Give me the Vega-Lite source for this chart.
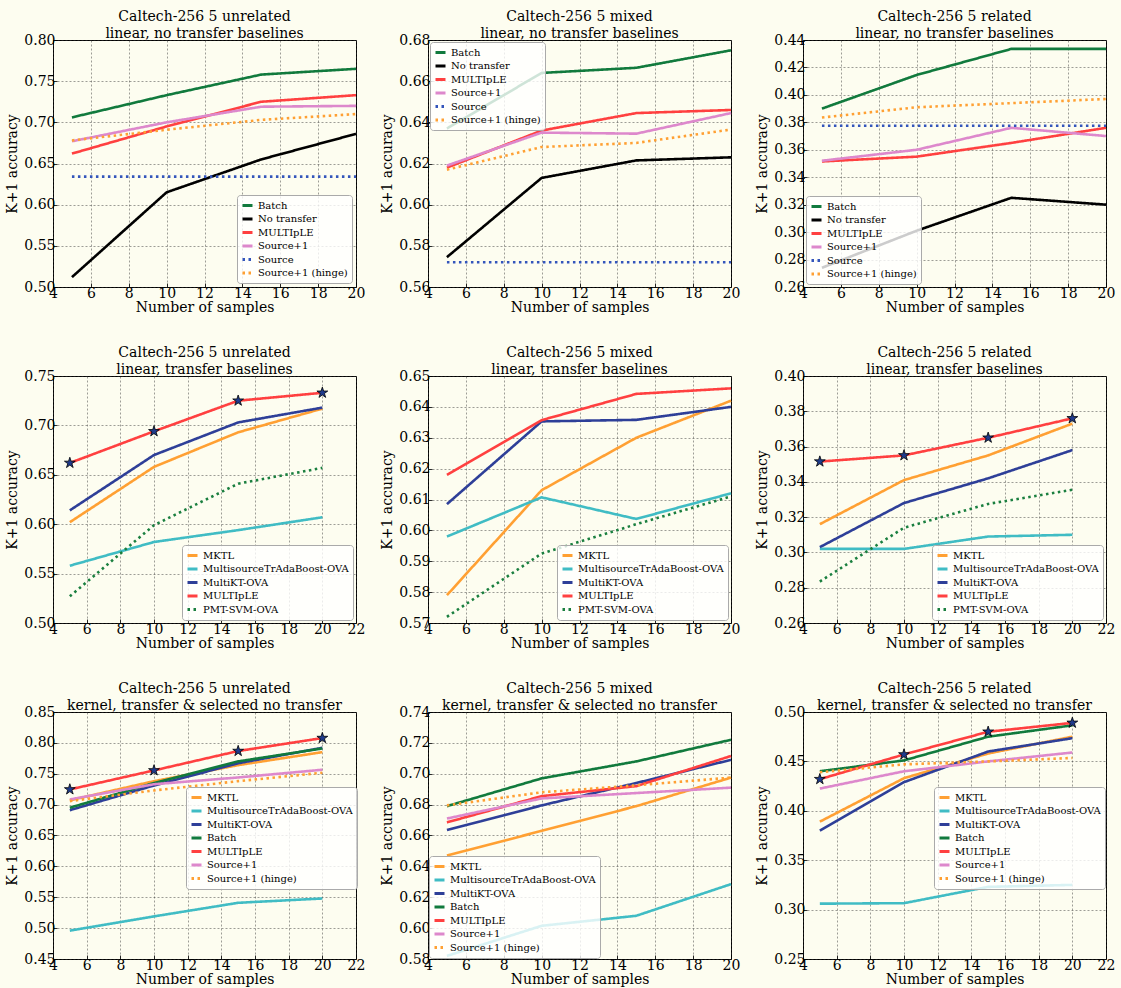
{
  "$schema": "https://vega.github.io/schema/vega-lite/v6.json",
  "background": "#fdfdf0",
  "padding": {"left": 5, "top": 9, "right": 5, "bottom": 2},
  "data": {"values": [
    {"p":1,"s":"Batch","n":5,"a":0.706},{"p":1,"s":"Batch","n":10,"a":0.733},{"p":1,"s":"Batch","n":15,"a":0.758},{"p":1,"s":"Batch","n":20,"a":0.765},
    {"p":1,"s":"No transfer","n":5,"a":0.512},{"p":1,"s":"No transfer","n":10,"a":0.615},{"p":1,"s":"No transfer","n":15,"a":0.655},{"p":1,"s":"No transfer","n":20,"a":0.686},
    {"p":1,"s":"MULTIpLE","n":5,"a":0.662},{"p":1,"s":"MULTIpLE","n":10,"a":0.695},{"p":1,"s":"MULTIpLE","n":15,"a":0.725},{"p":1,"s":"MULTIpLE","n":20,"a":0.733},
    {"p":1,"s":"Source+1","n":5,"a":0.677},{"p":1,"s":"Source+1","n":10,"a":0.700},{"p":1,"s":"Source+1","n":15,"a":0.719},{"p":1,"s":"Source+1","n":20,"a":0.720},
    {"p":1,"s":"Source","n":5,"a":0.634},{"p":1,"s":"Source","n":10,"a":0.634},{"p":1,"s":"Source","n":15,"a":0.634},{"p":1,"s":"Source","n":20,"a":0.634},
    {"p":1,"s":"Source+1 (hinge)","n":5,"a":0.678},{"p":1,"s":"Source+1 (hinge)","n":10,"a":0.691},{"p":1,"s":"Source+1 (hinge)","n":15,"a":0.703},{"p":1,"s":"Source+1 (hinge)","n":20,"a":0.710},

    {"p":2,"s":"Batch","n":5,"a":0.637},{"p":2,"s":"Batch","n":10,"a":0.664},{"p":2,"s":"Batch","n":15,"a":0.6665},{"p":2,"s":"Batch","n":20,"a":0.675},
    {"p":2,"s":"No transfer","n":5,"a":0.5745},{"p":2,"s":"No transfer","n":10,"a":0.613},{"p":2,"s":"No transfer","n":15,"a":0.6215},{"p":2,"s":"No transfer","n":20,"a":0.623},
    {"p":2,"s":"MULTIpLE","n":5,"a":0.618},{"p":2,"s":"MULTIpLE","n":10,"a":0.636},{"p":2,"s":"MULTIpLE","n":15,"a":0.6445},{"p":2,"s":"MULTIpLE","n":20,"a":0.646},
    {"p":2,"s":"Source+1","n":5,"a":0.619},{"p":2,"s":"Source+1","n":10,"a":0.635},{"p":2,"s":"Source+1","n":15,"a":0.6345},{"p":2,"s":"Source+1","n":20,"a":0.6445},
    {"p":2,"s":"Source","n":5,"a":0.572},{"p":2,"s":"Source","n":10,"a":0.572},{"p":2,"s":"Source","n":15,"a":0.572},{"p":2,"s":"Source","n":20,"a":0.572},
    {"p":2,"s":"Source+1 (hinge)","n":5,"a":0.617},{"p":2,"s":"Source+1 (hinge)","n":10,"a":0.628},{"p":2,"s":"Source+1 (hinge)","n":15,"a":0.630},{"p":2,"s":"Source+1 (hinge)","n":20,"a":0.6365},

    {"p":3,"s":"Batch","n":5,"a":0.390},{"p":3,"s":"Batch","n":10,"a":0.4145},{"p":3,"s":"Batch","n":15,"a":0.4335},{"p":3,"s":"Batch","n":20,"a":0.4335},
    {"p":3,"s":"No transfer","n":5,"a":0.274},{"p":3,"s":"No transfer","n":10,"a":0.301},{"p":3,"s":"No transfer","n":15,"a":0.325},{"p":3,"s":"No transfer","n":20,"a":0.320},
    {"p":3,"s":"MULTIpLE","n":5,"a":0.3515},{"p":3,"s":"MULTIpLE","n":10,"a":0.355},{"p":3,"s":"MULTIpLE","n":15,"a":0.365},{"p":3,"s":"MULTIpLE","n":20,"a":0.376},
    {"p":3,"s":"Source+1","n":5,"a":0.352},{"p":3,"s":"Source+1","n":10,"a":0.360},{"p":3,"s":"Source+1","n":15,"a":0.376},{"p":3,"s":"Source+1","n":20,"a":0.370},
    {"p":3,"s":"Source","n":5,"a":0.3775},{"p":3,"s":"Source","n":10,"a":0.3775},{"p":3,"s":"Source","n":15,"a":0.3775},{"p":3,"s":"Source","n":20,"a":0.3775},
    {"p":3,"s":"Source+1 (hinge)","n":5,"a":0.3835},{"p":3,"s":"Source+1 (hinge)","n":10,"a":0.391},{"p":3,"s":"Source+1 (hinge)","n":15,"a":0.394},{"p":3,"s":"Source+1 (hinge)","n":20,"a":0.397},

    {"p":4,"s":"MKTL","n":5,"a":0.602},{"p":4,"s":"MKTL","n":10,"a":0.658},{"p":4,"s":"MKTL","n":15,"a":0.693},{"p":4,"s":"MKTL","n":20,"a":0.717},
    {"p":4,"s":"MultisourceTrAdaBoost-OVA","n":5,"a":0.558},{"p":4,"s":"MultisourceTrAdaBoost-OVA","n":10,"a":0.582},{"p":4,"s":"MultisourceTrAdaBoost-OVA","n":15,"a":0.594},{"p":4,"s":"MultisourceTrAdaBoost-OVA","n":20,"a":0.607},
    {"p":4,"s":"MultiKT-OVA","n":5,"a":0.614},{"p":4,"s":"MultiKT-OVA","n":10,"a":0.670},{"p":4,"s":"MultiKT-OVA","n":15,"a":0.703},{"p":4,"s":"MultiKT-OVA","n":20,"a":0.718},
    {"p":4,"s":"MULTIpLE","n":5,"a":0.662},{"p":4,"s":"MULTIpLE","n":10,"a":0.694},{"p":4,"s":"MULTIpLE","n":15,"a":0.725},{"p":4,"s":"MULTIpLE","n":20,"a":0.733},
    {"p":4,"s":"PMT-SVM-OVA","n":5,"a":0.527},{"p":4,"s":"PMT-SVM-OVA","n":10,"a":0.599},{"p":4,"s":"PMT-SVM-OVA","n":15,"a":0.641},{"p":4,"s":"PMT-SVM-OVA","n":20,"a":0.657},

    {"p":5,"s":"MKTL","n":5,"a":0.579},{"p":5,"s":"MKTL","n":10,"a":0.613},{"p":5,"s":"MKTL","n":15,"a":0.630},{"p":5,"s":"MKTL","n":20,"a":0.642},
    {"p":5,"s":"MultisourceTrAdaBoost-OVA","n":5,"a":0.598},{"p":5,"s":"MultisourceTrAdaBoost-OVA","n":10,"a":0.6107},{"p":5,"s":"MultisourceTrAdaBoost-OVA","n":15,"a":0.6037},{"p":5,"s":"MultisourceTrAdaBoost-OVA","n":20,"a":0.612},
    {"p":5,"s":"MultiKT-OVA","n":5,"a":0.6085},{"p":5,"s":"MultiKT-OVA","n":10,"a":0.6353},{"p":5,"s":"MultiKT-OVA","n":15,"a":0.6358},{"p":5,"s":"MultiKT-OVA","n":20,"a":0.640},
    {"p":5,"s":"MULTIpLE","n":5,"a":0.618},{"p":5,"s":"MULTIpLE","n":10,"a":0.6357},{"p":5,"s":"MULTIpLE","n":15,"a":0.6442},{"p":5,"s":"MULTIpLE","n":20,"a":0.646},
    {"p":5,"s":"PMT-SVM-OVA","n":5,"a":0.572},{"p":5,"s":"PMT-SVM-OVA","n":10,"a":0.5925},{"p":5,"s":"PMT-SVM-OVA","n":15,"a":0.602},{"p":5,"s":"PMT-SVM-OVA","n":20,"a":0.611},

    {"p":6,"s":"MKTL","n":5,"a":0.316},{"p":6,"s":"MKTL","n":10,"a":0.341},{"p":6,"s":"MKTL","n":15,"a":0.355},{"p":6,"s":"MKTL","n":20,"a":0.373},
    {"p":6,"s":"MultisourceTrAdaBoost-OVA","n":5,"a":0.302},{"p":6,"s":"MultisourceTrAdaBoost-OVA","n":10,"a":0.302},{"p":6,"s":"MultisourceTrAdaBoost-OVA","n":15,"a":0.309},{"p":6,"s":"MultisourceTrAdaBoost-OVA","n":20,"a":0.310},
    {"p":6,"s":"MultiKT-OVA","n":5,"a":0.303},{"p":6,"s":"MultiKT-OVA","n":10,"a":0.328},{"p":6,"s":"MultiKT-OVA","n":15,"a":0.342},{"p":6,"s":"MultiKT-OVA","n":20,"a":0.358},
    {"p":6,"s":"MULTIpLE","n":5,"a":0.3515},{"p":6,"s":"MULTIpLE","n":10,"a":0.355},{"p":6,"s":"MULTIpLE","n":15,"a":0.365},{"p":6,"s":"MULTIpLE","n":20,"a":0.376},
    {"p":6,"s":"PMT-SVM-OVA","n":5,"a":0.2835},{"p":6,"s":"PMT-SVM-OVA","n":10,"a":0.314},{"p":6,"s":"PMT-SVM-OVA","n":15,"a":0.3275},{"p":6,"s":"PMT-SVM-OVA","n":20,"a":0.3355},

    {"p":7,"s":"MKTL","n":5,"a":0.707},{"p":7,"s":"MKTL","n":10,"a":0.738},{"p":7,"s":"MKTL","n":15,"a":0.764},{"p":7,"s":"MKTL","n":20,"a":0.785},
    {"p":7,"s":"MultisourceTrAdaBoost-OVA","n":5,"a":0.496},{"p":7,"s":"MultisourceTrAdaBoost-OVA","n":10,"a":0.519},{"p":7,"s":"MultisourceTrAdaBoost-OVA","n":15,"a":0.541},{"p":7,"s":"MultisourceTrAdaBoost-OVA","n":20,"a":0.548},
    {"p":7,"s":"MultiKT-OVA","n":5,"a":0.691},{"p":7,"s":"MultiKT-OVA","n":10,"a":0.731},{"p":7,"s":"MultiKT-OVA","n":15,"a":0.767},{"p":7,"s":"MultiKT-OVA","n":20,"a":0.792},
    {"p":7,"s":"Batch","n":5,"a":0.695},{"p":7,"s":"Batch","n":10,"a":0.735},{"p":7,"s":"Batch","n":15,"a":0.770},{"p":7,"s":"Batch","n":20,"a":0.791},
    {"p":7,"s":"MULTIpLE","n":5,"a":0.7246},{"p":7,"s":"MULTIpLE","n":10,"a":0.7554},{"p":7,"s":"MULTIpLE","n":15,"a":0.7868},{"p":7,"s":"MULTIpLE","n":20,"a":0.8078},
    {"p":7,"s":"Source+1","n":5,"a":0.7084},{"p":7,"s":"Source+1","n":10,"a":0.733},{"p":7,"s":"Source+1","n":15,"a":0.744},{"p":7,"s":"Source+1","n":20,"a":0.7565},
    {"p":7,"s":"Source+1 (hinge)","n":5,"a":0.7057},{"p":7,"s":"Source+1 (hinge)","n":10,"a":0.723},{"p":7,"s":"Source+1 (hinge)","n":15,"a":0.738},{"p":7,"s":"Source+1 (hinge)","n":20,"a":0.7516},

    {"p":8,"s":"MKTL","n":5,"a":0.647},{"p":8,"s":"MKTL","n":10,"a":0.663},{"p":8,"s":"MKTL","n":15,"a":0.679},{"p":8,"s":"MKTL","n":20,"a":0.6975},
    {"p":8,"s":"MultisourceTrAdaBoost-OVA","n":5,"a":0.582},{"p":8,"s":"MultisourceTrAdaBoost-OVA","n":10,"a":0.6015},{"p":8,"s":"MultisourceTrAdaBoost-OVA","n":15,"a":0.608},{"p":8,"s":"MultisourceTrAdaBoost-OVA","n":20,"a":0.6285},
    {"p":8,"s":"MultiKT-OVA","n":5,"a":0.6635},{"p":8,"s":"MultiKT-OVA","n":10,"a":0.6795},{"p":8,"s":"MultiKT-OVA","n":15,"a":0.694},{"p":8,"s":"MultiKT-OVA","n":20,"a":0.709},
    {"p":8,"s":"Batch","n":5,"a":0.679},{"p":8,"s":"Batch","n":10,"a":0.697},{"p":8,"s":"Batch","n":15,"a":0.708},{"p":8,"s":"Batch","n":20,"a":0.722},
    {"p":8,"s":"MULTIpLE","n":5,"a":0.6685},{"p":8,"s":"MULTIpLE","n":10,"a":0.6855},{"p":8,"s":"MULTIpLE","n":15,"a":0.692},{"p":8,"s":"MULTIpLE","n":20,"a":0.7115},
    {"p":8,"s":"Source+1","n":5,"a":0.671},{"p":8,"s":"Source+1","n":10,"a":0.684},{"p":8,"s":"Source+1","n":15,"a":0.6875},{"p":8,"s":"Source+1","n":20,"a":0.691},
    {"p":8,"s":"Source+1 (hinge)","n":5,"a":0.6795},{"p":8,"s":"Source+1 (hinge)","n":10,"a":0.688},{"p":8,"s":"Source+1 (hinge)","n":15,"a":0.6925},{"p":8,"s":"Source+1 (hinge)","n":20,"a":0.6975},

    {"p":9,"s":"MKTL","n":5,"a":0.389},{"p":9,"s":"MKTL","n":10,"a":0.433},{"p":9,"s":"MKTL","n":15,"a":0.458},{"p":9,"s":"MKTL","n":20,"a":0.475},
    {"p":9,"s":"MultisourceTrAdaBoost-OVA","n":5,"a":0.306},{"p":9,"s":"MultisourceTrAdaBoost-OVA","n":10,"a":0.3065},{"p":9,"s":"MultisourceTrAdaBoost-OVA","n":15,"a":0.323},{"p":9,"s":"MultisourceTrAdaBoost-OVA","n":20,"a":0.325},
    {"p":9,"s":"MultiKT-OVA","n":5,"a":0.380},{"p":9,"s":"MultiKT-OVA","n":10,"a":0.429},{"p":9,"s":"MultiKT-OVA","n":15,"a":0.460},{"p":9,"s":"MultiKT-OVA","n":20,"a":0.4735},
    {"p":9,"s":"Batch","n":5,"a":0.440},{"p":9,"s":"Batch","n":10,"a":0.451},{"p":9,"s":"Batch","n":15,"a":0.475},{"p":9,"s":"Batch","n":20,"a":0.4865},
    {"p":9,"s":"MULTIpLE","n":5,"a":0.432},{"p":9,"s":"MULTIpLE","n":10,"a":0.457},{"p":9,"s":"MULTIpLE","n":15,"a":0.480},{"p":9,"s":"MULTIpLE","n":20,"a":0.489},
    {"p":9,"s":"Source+1","n":5,"a":0.4225},{"p":9,"s":"Source+1","n":10,"a":0.440},{"p":9,"s":"Source+1","n":15,"a":0.450},{"p":9,"s":"Source+1","n":20,"a":0.459},
    {"p":9,"s":"Source+1 (hinge)","n":5,"a":0.439},{"p":9,"s":"Source+1 (hinge)","n":10,"a":0.447},{"p":9,"s":"Source+1 (hinge)","n":15,"a":0.450},{"p":9,"s":"Source+1 (hinge)","n":20,"a":0.4535}
  ]},
  "columns": 3,
  "spacing": {"row": 89, "column": 72},
  "bounds": "flush",
  "resolve": {"scale": {"x": "independent", "y": "independent", "color": "independent", "strokeDash": "independent"}},
  "concat": [
    {
      "width": 303, "height": 247,
      "title": {"text": ["Caltech-256 5 unrelated", "linear, no transfer baselines"]},
      "transform": [{"filter": "datum.p == 1"}],
      "mark": {"type": "line", "strokeWidth": 2.6},
      "encoding": {
        "x": {"field": "n", "type": "quantitative", "scale": {"domain": [4, 20], "nice": false}, "axis": {"title": "Number of samples", "values": [4,6,8,10,12,14,16,18,20], "format": "d"}},
        "y": {"field": "a", "type": "quantitative", "scale": {"domain": [0.5, 0.8], "nice": false, "zero": false}, "axis": {"title": "K+1 accuracy", "values": [0.5,0.55,0.6,0.65,0.7,0.75,0.8], "format": ".2f"}},
        "color": {"field": "s", "type": "nominal", "scale": {"domain": ["Batch","No transfer","MULTIpLE","Source+1","Source","Source+1 (hinge)"], "range": ["#117a3d","#000000","#ff4040","#dd88cc","#3355bb","#ffa033"]}, "legend": {"title": null, "orient": "bottom-right", "offset": 4}},
        "strokeDash": {"field": "s", "type": "nominal", "scale": {"domain": ["Batch","No transfer","MULTIpLE","Source+1","Source","Source+1 (hinge)"], "range": [[1,0],[1,0],[1,0],[1,0],[2.5,3.5],[2.5,3.5]]}, "legend": {"title": null, "orient": "bottom-right", "offset": 4}}
      }
    },
    {
      "width": 303, "height": 247,
      "title": {"text": ["Caltech-256 5 mixed", "linear, no transfer baselines"]},
      "transform": [{"filter": "datum.p == 2"}],
      "mark": {"type": "line", "strokeWidth": 2.6},
      "encoding": {
        "x": {"field": "n", "type": "quantitative", "scale": {"domain": [4, 20], "nice": false}, "axis": {"title": "Number of samples", "values": [4,6,8,10,12,14,16,18,20], "format": "d"}},
        "y": {"field": "a", "type": "quantitative", "scale": {"domain": [0.56, 0.68], "nice": false, "zero": false}, "axis": {"title": "K+1 accuracy", "values": [0.56,0.58,0.6,0.62,0.64,0.66,0.68], "format": ".2f"}},
        "color": {"field": "s", "type": "nominal", "scale": {"domain": ["Batch","No transfer","MULTIpLE","Source+1","Source","Source+1 (hinge)"], "range": ["#117a3d","#000000","#ff4040","#dd88cc","#3355bb","#ffa033"]}, "legend": {"title": null, "orient": "top-left", "offset": 2}},
        "strokeDash": {"field": "s", "type": "nominal", "scale": {"domain": ["Batch","No transfer","MULTIpLE","Source+1","Source","Source+1 (hinge)"], "range": [[1,0],[1,0],[1,0],[1,0],[2.5,3.5],[2.5,3.5]]}, "legend": {"title": null, "orient": "top-left", "offset": 2}}
      }
    },
    {
      "width": 303, "height": 247,
      "title": {"text": ["Caltech-256 5 related", "linear, no transfer baselines"]},
      "transform": [{"filter": "datum.p == 3"}],
      "mark": {"type": "line", "strokeWidth": 2.6},
      "encoding": {
        "x": {"field": "n", "type": "quantitative", "scale": {"domain": [4, 20], "nice": false}, "axis": {"title": "Number of samples", "values": [4,6,8,10,12,14,16,18,20], "format": "d"}},
        "y": {"field": "a", "type": "quantitative", "scale": {"domain": [0.26, 0.44], "nice": false, "zero": false}, "axis": {"title": "K+1 accuracy", "values": [0.26,0.28,0.3,0.32,0.34,0.36,0.38,0.4,0.42,0.44], "format": ".2f"}},
        "color": {"field": "s", "type": "nominal", "scale": {"domain": ["Batch","No transfer","MULTIpLE","Source+1","Source","Source+1 (hinge)"], "range": ["#117a3d","#000000","#ff4040","#dd88cc","#3355bb","#ffa033"]}, "legend": {"title": null, "orient": "bottom-left", "offset": 3}},
        "strokeDash": {"field": "s", "type": "nominal", "scale": {"domain": ["Batch","No transfer","MULTIpLE","Source+1","Source","Source+1 (hinge)"], "range": [[1,0],[1,0],[1,0],[1,0],[2.5,3.5],[2.5,3.5]]}, "legend": {"title": null, "orient": "bottom-left", "offset": 3}}
      }
    },
    {
      "width": 303, "height": 247,
      "title": {"text": ["Caltech-256 5 unrelated", "linear, transfer baselines"]},
      "transform": [{"filter": "datum.p == 4"}],
      "encoding": {
        "x": {"field": "n", "type": "quantitative", "scale": {"domain": [4, 22], "nice": false}, "axis": {"title": "Number of samples", "values": [4,6,8,10,12,14,16,18,20,22], "format": "d"}},
        "y": {"field": "a", "type": "quantitative", "scale": {"domain": [0.5, 0.75], "nice": false, "zero": false}, "axis": {"title": "K+1 accuracy", "values": [0.5,0.55,0.6,0.65,0.7,0.75], "format": ".2f"}}
      },
      "layer": [
        {"mark": {"type": "line", "strokeWidth": 2.6},
         "encoding": {
          "color": {"field": "s", "type": "nominal", "scale": {"domain": ["MKTL","MultisourceTrAdaBoost-OVA","MultiKT-OVA","MULTIpLE","PMT-SVM-OVA"], "range": ["#ffa033","#40bcc4","#2e3f98","#ff4040","#1a7f3f"]}, "legend": {"title": null, "orient": "bottom-right", "offset": 3}},
          "strokeDash": {"field": "s", "type": "nominal", "scale": {"domain": ["MKTL","MultisourceTrAdaBoost-OVA","MultiKT-OVA","MULTIpLE","PMT-SVM-OVA"], "range": [[1,0],[1,0],[1,0],[1,0],[2.5,3.5]]}, "legend": {"title": null, "orient": "bottom-right", "offset": 3}}
         }},
        {"transform": [{"filter": "datum.s == 'MULTIpLE'"}],
         "mark": {"type": "point", "shape": "M0,-1L0.2245,-0.309L0.9511,-0.309L0.3633,0.118L0.5878,0.809L0,0.382L-0.5878,0.809L-0.3633,0.118L-0.9511,-0.309L-0.2245,-0.309Z", "filled": true, "fill": "#1f3b8c", "stroke": "#000000", "strokeWidth": 0.8, "size": 130, "opacity": 1}}
      ]
    },
    {
      "width": 303, "height": 247,
      "title": {"text": ["Caltech-256 5 mixed", "linear, transfer baselines"]},
      "transform": [{"filter": "datum.p == 5"}],
      "mark": {"type": "line", "strokeWidth": 2.6},
      "encoding": {
        "x": {"field": "n", "type": "quantitative", "scale": {"domain": [4, 20], "nice": false}, "axis": {"title": "Number of samples", "values": [4,6,8,10,12,14,16,18,20], "format": "d"}},
        "y": {"field": "a", "type": "quantitative", "scale": {"domain": [0.57, 0.65], "nice": false, "zero": false}, "axis": {"title": "K+1 accuracy", "values": [0.57,0.58,0.59,0.6,0.61,0.62,0.63,0.64,0.65], "format": ".2f"}},
        "color": {"field": "s", "type": "nominal", "scale": {"domain": ["MKTL","MultisourceTrAdaBoost-OVA","MultiKT-OVA","MULTIpLE","PMT-SVM-OVA"], "range": ["#ffa033","#40bcc4","#2e3f98","#ff4040","#1a7f3f"]}, "legend": {"title": null, "orient": "bottom-right", "offset": 3}},
        "strokeDash": {"field": "s", "type": "nominal", "scale": {"domain": ["MKTL","MultisourceTrAdaBoost-OVA","MultiKT-OVA","MULTIpLE","PMT-SVM-OVA"], "range": [[1,0],[1,0],[1,0],[1,0],[2.5,3.5]]}, "legend": {"title": null, "orient": "bottom-right", "offset": 3}}
      }
    },
    {
      "width": 303, "height": 247,
      "title": {"text": ["Caltech-256 5 related", "linear, transfer baselines"]},
      "transform": [{"filter": "datum.p == 6"}],
      "encoding": {
        "x": {"field": "n", "type": "quantitative", "scale": {"domain": [4, 22], "nice": false}, "axis": {"title": "Number of samples", "values": [4,6,8,10,12,14,16,18,20,22], "format": "d"}},
        "y": {"field": "a", "type": "quantitative", "scale": {"domain": [0.26, 0.40], "nice": false, "zero": false}, "axis": {"title": "K+1 accuracy", "values": [0.26,0.28,0.3,0.32,0.34,0.36,0.38,0.4], "format": ".2f"}}
      },
      "layer": [
        {"mark": {"type": "line", "strokeWidth": 2.6},
         "encoding": {
          "color": {"field": "s", "type": "nominal", "scale": {"domain": ["MKTL","MultisourceTrAdaBoost-OVA","MultiKT-OVA","MULTIpLE","PMT-SVM-OVA"], "range": ["#ffa033","#40bcc4","#2e3f98","#ff4040","#1a7f3f"]}, "legend": {"title": null, "orient": "bottom-right", "offset": 3}},
          "strokeDash": {"field": "s", "type": "nominal", "scale": {"domain": ["MKTL","MultisourceTrAdaBoost-OVA","MultiKT-OVA","MULTIpLE","PMT-SVM-OVA"], "range": [[1,0],[1,0],[1,0],[1,0],[2.5,3.5]]}, "legend": {"title": null, "orient": "bottom-right", "offset": 3}}
         }},
        {"transform": [{"filter": "datum.s == 'MULTIpLE'"}],
         "mark": {"type": "point", "shape": "M0,-1L0.2245,-0.309L0.9511,-0.309L0.3633,0.118L0.5878,0.809L0,0.382L-0.5878,0.809L-0.3633,0.118L-0.9511,-0.309L-0.2245,-0.309Z", "filled": true, "fill": "#1f3b8c", "stroke": "#000000", "strokeWidth": 0.8, "size": 130, "opacity": 1}}
      ]
    },
    {
      "width": 303, "height": 247,
      "title": {"text": ["Caltech-256 5 unrelated", "kernel, transfer & selected no transfer"]},
      "transform": [{"filter": "datum.p == 7"}],
      "encoding": {
        "x": {"field": "n", "type": "quantitative", "scale": {"domain": [4, 22], "nice": false}, "axis": {"title": "Number of samples", "values": [4,6,8,10,12,14,16,18,20,22], "format": "d"}},
        "y": {"field": "a", "type": "quantitative", "scale": {"domain": [0.45, 0.85], "nice": false, "zero": false}, "axis": {"title": "K+1 accuracy", "values": [0.45,0.5,0.55,0.6,0.65,0.7,0.75,0.8,0.85], "format": ".2f"}}
      },
      "layer": [
        {"mark": {"type": "line", "strokeWidth": 2.6},
         "encoding": {
          "color": {"field": "s", "type": "nominal", "scale": {"domain": ["MKTL","MultisourceTrAdaBoost-OVA","MultiKT-OVA","Batch","MULTIpLE","Source+1","Source+1 (hinge)"], "range": ["#ffa033","#40bcc4","#2e3f98","#117a3d","#ff4040","#dd88cc","#ffa033"]}, "legend": {"title": null, "orient": "none", "legendX": 133, "legendY": 75}},
          "strokeDash": {"field": "s", "type": "nominal", "scale": {"domain": ["MKTL","MultisourceTrAdaBoost-OVA","MultiKT-OVA","Batch","MULTIpLE","Source+1","Source+1 (hinge)"], "range": [[1,0],[1,0],[1,0],[1,0],[1,0],[1,0],[2.5,3.5]]}, "legend": {"title": null, "orient": "none", "legendX": 133, "legendY": 75}}
         }},
        {"transform": [{"filter": "datum.s == 'MULTIpLE'"}],
         "mark": {"type": "point", "shape": "M0,-1L0.2245,-0.309L0.9511,-0.309L0.3633,0.118L0.5878,0.809L0,0.382L-0.5878,0.809L-0.3633,0.118L-0.9511,-0.309L-0.2245,-0.309Z", "filled": true, "fill": "#1f3b8c", "stroke": "#000000", "strokeWidth": 0.8, "size": 130, "opacity": 1}}
      ]
    },
    {
      "width": 303, "height": 247,
      "title": {"text": ["Caltech-256 5 mixed", "kernel, transfer & selected no transfer"]},
      "transform": [{"filter": "datum.p == 8"}],
      "mark": {"type": "line", "strokeWidth": 2.6},
      "encoding": {
        "x": {"field": "n", "type": "quantitative", "scale": {"domain": [4, 20], "nice": false}, "axis": {"title": "Number of samples", "values": [4,6,8,10,12,14,16,18,20], "format": "d"}},
        "y": {"field": "a", "type": "quantitative", "scale": {"domain": [0.58, 0.74], "nice": false, "zero": false}, "axis": {"title": "K+1 accuracy", "values": [0.58,0.6,0.62,0.64,0.66,0.68,0.7,0.72,0.74], "format": ".2f"}},
        "color": {"field": "s", "type": "nominal", "scale": {"domain": ["MKTL","MultisourceTrAdaBoost-OVA","MultiKT-OVA","Batch","MULTIpLE","Source+1","Source+1 (hinge)"], "range": ["#ffa033","#40bcc4","#2e3f98","#117a3d","#ff4040","#dd88cc","#ffa033"]}, "legend": {"title": null, "orient": "bottom-left", "offset": 1}},
        "strokeDash": {"field": "s", "type": "nominal", "scale": {"domain": ["MKTL","MultisourceTrAdaBoost-OVA","MultiKT-OVA","Batch","MULTIpLE","Source+1","Source+1 (hinge)"], "range": [[1,0],[1,0],[1,0],[1,0],[1,0],[1,0],[2.5,3.5]]}, "legend": {"title": null, "orient": "bottom-left", "offset": 1}}
      }
    },
    {
      "width": 303, "height": 247,
      "title": {"text": ["Caltech-256 5 related", "kernel, transfer & selected no transfer"]},
      "transform": [{"filter": "datum.p == 9"}],
      "encoding": {
        "x": {"field": "n", "type": "quantitative", "scale": {"domain": [4, 22], "nice": false}, "axis": {"title": "Number of samples", "values": [4,6,8,10,12,14,16,18,20,22], "format": "d"}},
        "y": {"field": "a", "type": "quantitative", "scale": {"domain": [0.25, 0.50], "nice": false, "zero": false}, "axis": {"title": "K+1 accuracy", "values": [0.25,0.3,0.35,0.4,0.45,0.5], "format": ".2f"}}
      },
      "layer": [
        {"mark": {"type": "line", "strokeWidth": 2.6},
         "encoding": {
          "color": {"field": "s", "type": "nominal", "scale": {"domain": ["MKTL","MultisourceTrAdaBoost-OVA","MultiKT-OVA","Batch","MULTIpLE","Source+1","Source+1 (hinge)"], "range": ["#ffa033","#40bcc4","#2e3f98","#117a3d","#ff4040","#dd88cc","#ffa033"]}, "legend": {"title": null, "orient": "none", "legendX": 131, "legendY": 75}},
          "strokeDash": {"field": "s", "type": "nominal", "scale": {"domain": ["MKTL","MultisourceTrAdaBoost-OVA","MultiKT-OVA","Batch","MULTIpLE","Source+1","Source+1 (hinge)"], "range": [[1,0],[1,0],[1,0],[1,0],[1,0],[1,0],[2.5,3.5]]}, "legend": {"title": null, "orient": "none", "legendX": 131, "legendY": 75}}
         }},
        {"transform": [{"filter": "datum.s == 'MULTIpLE'"}],
         "mark": {"type": "point", "shape": "M0,-1L0.2245,-0.309L0.9511,-0.309L0.3633,0.118L0.5878,0.809L0,0.382L-0.5878,0.809L-0.3633,0.118L-0.9511,-0.309L-0.2245,-0.309Z", "filled": true, "fill": "#1f3b8c", "stroke": "#000000", "strokeWidth": 0.8, "size": 130, "opacity": 1}}
      ]
    }
  ],
  "config": {
    "font": "DejaVu Serif",
    "view": {"stroke": "#000000", "strokeWidth": 1, "fill": "#fdfdf0"},
    "title": {"font": "DejaVu Serif", "fontSize": 14, "fontWeight": "normal", "color": "#000000", "lineHeight": 17, "offset": -8},
    "axis": {
      "labelFont": "DejaVu Serif", "labelFontSize": 14, "labelColor": "#000000",
      "titleFont": "DejaVu Serif", "titleFontSize": 14, "titleFontWeight": "normal", "titleColor": "#000000",
      "grid": true, "gridColor": "#333333", "gridDash": [2, 2], "gridWidth": 0.6, "gridOpacity": 0.8,
      "domain": false, "ticks": true, "tickColor": "#000000", "tickSize": -4, "tickWidth": 0.8,
      "labelFlush": false, "labelOverlap": false, "labelBound": false
    },
    "axisX": {"labelPadding": 3, "titlePadding": 0},
    "axisY": {"labelPadding": 2, "titlePadding": 4},
    "legend": {
      "labelFont": "DejaVu Serif", "labelFontSize": 10, "labelColor": "#000000", "labelLimit": 0,
      "symbolType": "stroke", "symbolSize": 100, "symbolStrokeWidth": 3,
      "fillColor": "rgba(255,255,255,0.8)", "strokeColor": "#aaaaaa", "cornerRadius": 3,
      "padding": 4, "rowPadding": 0.5
    }
  }
}
